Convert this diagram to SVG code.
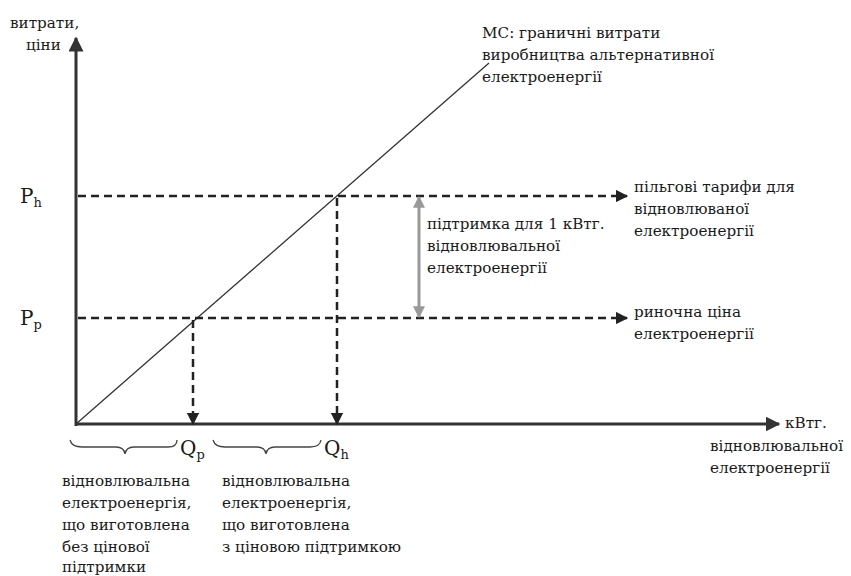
<svg xmlns="http://www.w3.org/2000/svg" width="851" height="576" viewBox="0 0 851 576" font-family="'DejaVu Serif', 'Liberation Serif', serif">
<defs>
<style>
text{font-family:'DejaVu Serif','Liberation Serif',serif;font-size:15.2px;fill:#1a1a1a}
.sym{font-size:20px}
.sub{font-size:13px}
.axis{stroke:#333;stroke-width:3;fill:none}
.dash{stroke:#222;stroke-width:2.5;stroke-dasharray:8 5;fill:none}
.brace{stroke:#444;stroke-width:1.3;fill:none}
</style>
<marker id="ah" viewBox="0 0 10 10" refX="9" refY="5" markerWidth="5" markerHeight="5" orient="auto" markerUnits="strokeWidth"><path d="M0,0L10,5L0,10z" fill="#222"/></marker>
<marker id="ahAxis" viewBox="0 0 10 10" refX="9" refY="5" markerWidth="5" markerHeight="5" orient="auto" markerUnits="strokeWidth"><path d="M0,0L10,5L0,10z" fill="#333"/></marker>
<marker id="ahG" viewBox="0 0 10 10" refX="9" refY="5" markerWidth="4" markerHeight="4" orient="auto-start-reverse" markerUnits="strokeWidth"><path d="M0,0L10,5L0,10z" fill="#999"/></marker>
</defs>
<rect width="851" height="576" fill="#fff"/>
<g id="connectors">
<line class="axis" x1="76" y1="426" x2="76" y2="38" marker-end="url(#ahAxis)"/>
<line class="axis" x1="75" y1="424" x2="779" y2="424" marker-end="url(#ahAxis)"/>
<line x1="76" y1="424" x2="489" y2="63" stroke="#333" stroke-width="1.3"/>
<line class="dash" x1="78" y1="196" x2="627" y2="196" marker-end="url(#ah)"/>
<line class="dash" x1="78" y1="318" x2="627" y2="318" marker-end="url(#ah)"/>
<line class="dash" x1="193" y1="320" x2="193" y2="424" marker-end="url(#ah)"/>
<line class="dash" x1="337" y1="198" x2="337" y2="424" marker-end="url(#ah)"/>
<line x1="419" y1="197" x2="419" y2="317" stroke="#999" stroke-width="3" marker-start="url(#ahG)" marker-end="url(#ahG)"/>
<path class="brace" d="M70,440 Q72,447 82,447 L116,447 Q124,447 125,454 Q126,447 134,447 L168,447 Q177,447 177,440"/>
<path class="brace" d="M213,440 Q215,447 225,447 L257,447 Q265,447 266,454 Q267,447 275,447 L310,447 Q320,447 321,440"/>
</g>
<g id="y-label"><text x="10" y="28">витрати,</text><text x="26" y="50">ціни</text></g>
<g id="mc-label"><text x="482" y="38">МС: граничні витрати</text><text x="482" y="60">виробництва альтернативної</text><text x="482" y="82">електроенергії</text></g>
<g id="Ph"><text class="sym" x="20" y="203">P<tspan class="sub" dy="4">h</tspan></text></g>
<g id="Pp"><text class="sym" x="20" y="325">P<tspan class="sub" dy="4">p</tspan></text></g>
<g id="tariff-label"><text x="634" y="192">пільгові тарифи для</text><text x="634" y="214">відновлюваної</text><text x="634" y="236">електроенергії</text></g>
<g id="support-label"><text x="427" y="229">підтримка для 1 кВтг.</text><text x="427" y="251">відновлювальної</text><text x="427" y="273">електроенергії</text></g>
<g id="market-label"><text x="634" y="317">риночна ціна</text><text x="634" y="339">електроенергії</text></g>
<g id="Qp"><text class="sym" x="180" y="455">Q<tspan class="sub" dy="4">p</tspan></text></g>
<g id="Qh"><text class="sym" x="324" y="455">Q<tspan class="sub" dy="4">h</tspan></text></g>
<g id="x-label"><text x="785" y="428">кВтг.</text><text x="710" y="451">відновлювальної</text><text x="710" y="473">електроенергії</text></g>
<g id="no-support-label"><text x="62" y="486">відновлювальна</text><text x="62" y="508">електроенергія,</text><text x="62" y="530">що виготовлена</text><text x="62" y="552">без цінової</text><text x="62" y="572">підтримки</text></g>
<g id="support-q-label"><text x="222" y="486">відновлювальна</text><text x="222" y="508">електроенергія,</text><text x="222" y="530">що виготовлена</text><text x="222" y="552">з ціновою підтримкою</text></g>
</svg>
